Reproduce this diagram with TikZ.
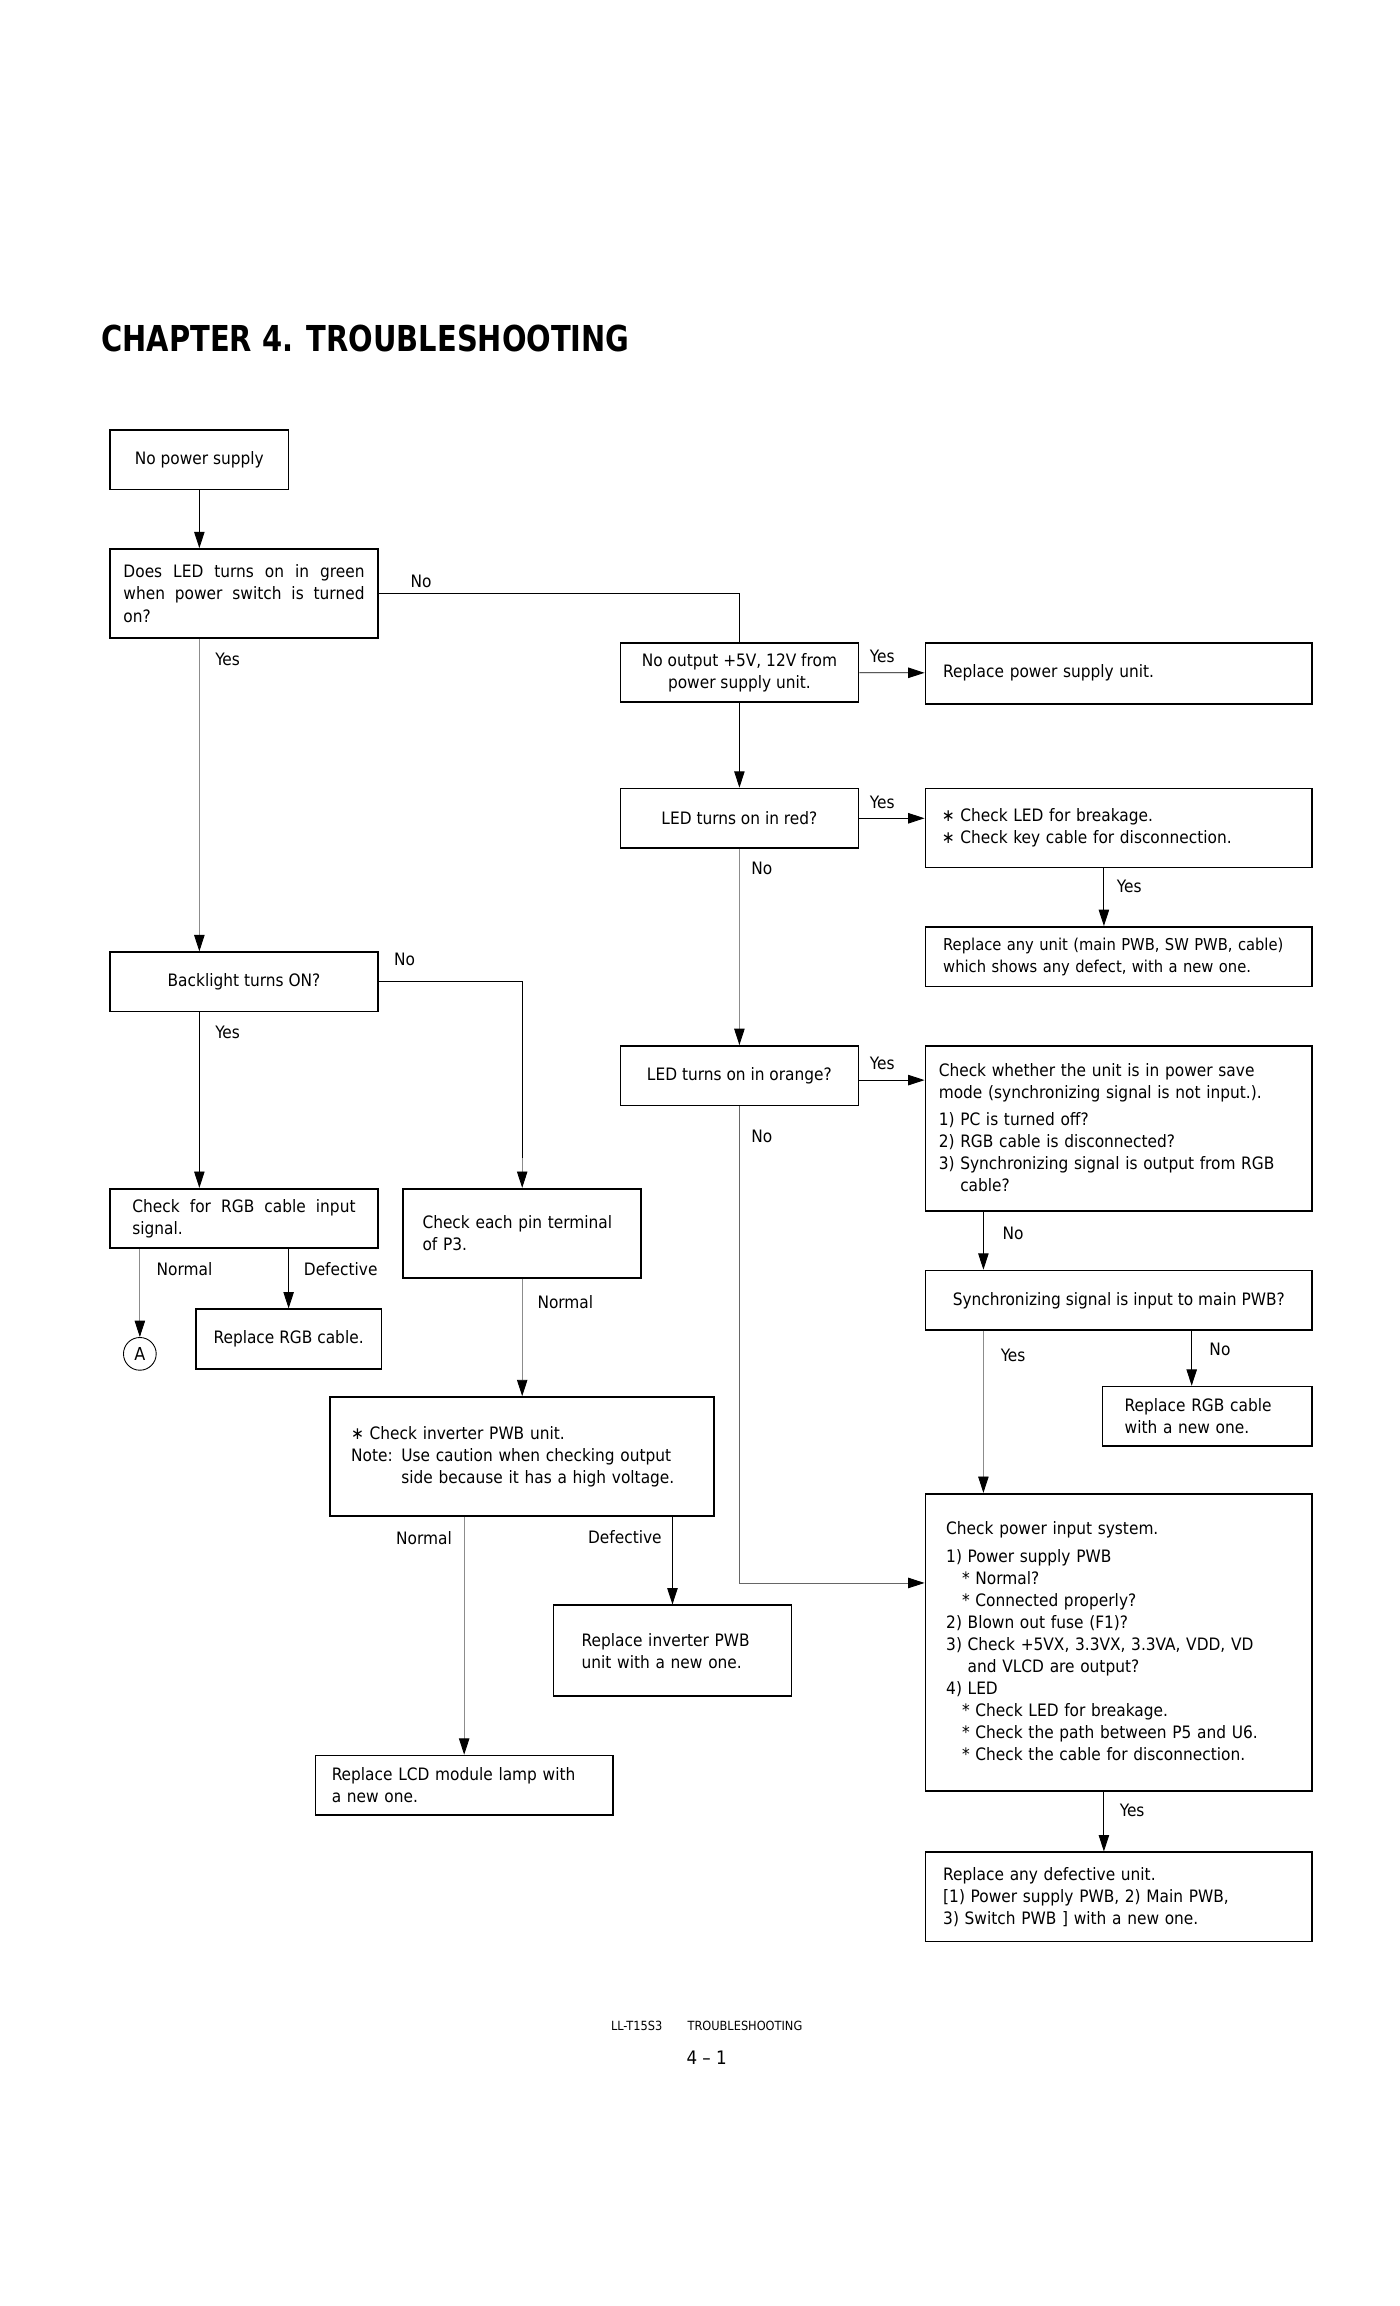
\documentclass[tikz,border=0pt]{standalone}
\usepackage{fontspec}
\setmainfont{DejaVu Sans Condensed}
\newfontfamily\titlefont{DejaVu Sans Condensed}[FakeStretch=0.9]
\usetikzlibrary{arrows.meta}
\newcommand\boxfont{\fontsize{11.5}{14.8}\selectfont\hyphenpenalty 10000\relax}

\begin{document}
\begin{tikzpicture}[x=1pt,y=-1pt,
    box/.style={draw,line width=1.1pt,rectangle,inner ysep=0pt,inner xsep=12pt,
        align=left,font=\boxfont},
    cbox/.style={box,align=center},
    lbl/.style={font=\fontsize{11.5}{14}\selectfont,inner sep=0pt},
    link/.style={line width=0.6pt,-{Triangle[length=11pt,width=7pt,color=black]}},
    glink/.style={link,draw=black!45},
    bare/.style={line width=0.6pt}]
    \useasboundingbox (0,0) rectangle (941,1550);

    \node[anchor=base west,inner sep=0pt,font=\titlefont\fontsize{24}{27}\bfseries] (title) at (68,236) {CHAPTER 4. TROUBLESHOOTING};

    % left column
    \node[cbox,minimum width=120pt,minimum height=40pt] (nops) at (134,309) {No power supply};
    \node[box,minimum width=180pt,minimum height=60pt,text width=162pt,inner xsep=9pt,align=justify] (green) at (164,399) {Does LED turns on in green when power switch is turned on?};
    \node[cbox,minimum width=180pt,minimum height=40pt] (back) at (164,660) {Backlight turns ON?};
    \node[box,minimum width=180pt,minimum height=40pt,text width=150pt,inner xsep=15pt,align=justify] (rgbin) at (164,819) {Check for RGB cable input signal.};
    \node[cbox,minimum width=120pt,minimum height=40pt] (rrgb) at (194,900) {Replace RGB cable.};
    \node[draw,circle,line width=0.6pt,minimum size=22pt,inner sep=0pt,font=\fontsize{12}{12}\selectfont] (A) at (94,910) {A};
    \node[box,minimum width=160pt,minimum height=60pt,text width=134pt,inner xsep=13pt] (pin) at (351,829) {Check each pin terminal\\of P3.};
    \node[box,minimum width=258pt,minimum height=80pt,text width=230pt,inner xsep=14pt] (inv) at (351,979) {∗ Check inverter PWB unit.\\Note: Use caution when checking output\\\phantom{Note: }side because it has a high voltage.};
    \node[box,minimum width=200pt,minimum height=40pt,text width=178pt,inner xsep=11pt] (lamp) at (312,1200) {Replace LCD module lamp with\\a new one.};
    \node[box,minimum width=160pt,minimum height=61pt,text width=122pt,inner xsep=19pt] (rinv) at (452,1109.5) {Replace inverter PWB\\unit with a new one.};

    % middle and right columns
    \node[cbox,minimum width=160pt,minimum height=40pt] (out) at (497,452) {No output +5V, 12V from\\power supply unit.};
    \node[box,minimum width=260pt,minimum height=41pt,text width=236pt] (rpsu) at (752,452.5) {Replace power supply unit.};
    \node[cbox,minimum width=160pt,minimum height=40pt] (red) at (497,550) {LED turns on in red?};
    \node[box,minimum width=260pt,minimum height=53pt,text width=238pt,inner xsep=11pt] (chk) at (752,556.5) {∗ Check LED for breakage.\\∗ Check key cable for disconnection.};
    \node[box,minimum width=260pt,minimum height=40pt,text width=236pt,inner xsep=12pt,font=\fontsize{11}{14.8}\selectfont] (rany) at (752,643) {\mbox{Replace any unit (main PWB, SW PWB, cable)}\\\mbox{which shows any defect, with a new one.}};
    \node[cbox,minimum width=160pt,minimum height=40pt] (orange) at (497,723) {LED turns on in orange?};
    \node[box,minimum width=260pt,minimum height=111pt,text width=242pt,inner xsep=9pt] (save) at (752,758.5) {Check whether the unit is in power save\\mode (synchronizing signal is not input.).\\[3pt]1) PC is turned off?\\2) RGB cable is disconnected?\\3) Synchronizing signal is output from RGB\\\phantom{3) }cable?};
    \node[cbox,minimum width=260pt,minimum height=40pt] (sync) at (752,874) {Synchronizing signal is input to main PWB?};
    \node[box,minimum width=141pt,minimum height=40pt,text width=111pt,inner xsep=15pt] (rrgb2) at (811.5,952) {Replace RGB cable\\with a new one.};
    \node[box,minimum width=260pt,minimum height=200pt,text width=232pt,inner xsep=14pt] (pwr) at (752,1104) {Check power input system.\\[4pt]1) Power supply PWB\\\phantom{1)}* Normal?\\\phantom{1)}* Connected properly?\\2) Blown out fuse (F1)?\\3) Check +5VX, 3.3VX, 3.3VA, VDD, VD\\\phantom{3) }and VLCD are output?\\4) LED\\\phantom{1)}* Check LED for breakage.\\\phantom{1)}* Check the path between P5 and U6.\\\phantom{1)}* Check the cable for disconnection.};
    \node[box,minimum width=260pt,minimum height=60pt,text width=236pt] (rdef) at (752,1275) {Replace any defective unit.\\{}[1) Power supply PWB, 2) Main PWB,\\3) Switch PWB ] with a new one.};

    % connectors
    \draw[link] (nops) -- (nops.south |- green.north);
    \draw[bare] (green.east) -| (out.north);
    \draw[link] (out) -- (rpsu);
    \draw[link] (out) -- (red);
    \draw[link] (red.east) -- (red.east -| chk.west);
    \draw[link] ([xshift=-10pt]chk.south) -- ([xshift=-10pt]rany.north);
    \draw[glink] (red) -- (orange);
    \draw[link] ([yshift=-3pt]orange.east) -- ([yshift=-3pt]orange.east -| save.west);
    \draw[link,draw=black!60] (orange) |- ([yshift=40pt]pwr.west);
    \draw[link] ([xshift=-91pt]save.south) -- ([xshift=-91pt]sync.north);
    \draw[glink] ([xshift=-91pt]sync.south) -- ([xshift=-91pt]pwr.north);
    \draw[link] ([xshift=49pt]sync.south) -- ([xshift=49pt]sync.south |- rrgb2.north);
    \draw[link] ([xshift=-10pt]pwr.south) -- ([xshift=-10pt]rdef.north);
    \draw[glink] (green.south -| nops.south) -- (back.north -| nops.south);
    \draw[bare] (back.east) -| ([yshift=20pt]pin.north);
    \draw[glink] ([yshift=20pt]pin.north) -- (pin.north);
    \draw[link] (back.south -| nops.south) -- (rgbin.north -| nops.south);
    \draw[glink] (rgbin.south -| A.north) -- (A.north);
    \draw[link] (rgbin.south -| rrgb.north) -- (rrgb.north);
    \draw[glink] (pin) -- (inv);
    \draw[glink] (inv.south -| lamp.north) -- (lamp.north);
    \draw[link] (inv.south -| rinv.north) -- (rinv.north);

    % branch labels
    \node[lbl] (l1) at (283,391) {No};
    \node[lbl] (l2) at (593,441) {Yes};
    \node[lbl] (l3) at (593,539) {Yes};
    \node[lbl] (l4) at (759,596) {Yes};
    \node[lbl] (l5) at (512,584) {No};
    \node[lbl] (l6) at (593,715) {Yes};
    \node[lbl] (l7) at (512,764) {No};
    \node[lbl] (l8) at (681,829) {No};
    \node[lbl] (l9) at (681,911) {Yes};
    \node[lbl] (l10) at (820,907) {No};
    \node[lbl] (l11) at (761,1217) {Yes};
    \node[lbl] (l12) at (153,443) {Yes};
    \node[lbl] (l13) at (272,645) {No};
    \node[lbl] (l14) at (153,694) {Yes};
    \node[lbl] (l15) at (124,853) {Normal};
    \node[lbl] (l16) at (229,853) {Defective};
    \node[lbl] (l17) at (380,875) {Normal};
    \node[lbl] (l18) at (285,1034) {Normal};
    \node[lbl] (l19) at (420,1033) {Defective};

    % footer
    \node[font=\fontsize{8.5}{9}\selectfont,inner sep=0pt] (foot) at (475,1362) {LL-T15S3\quad\quad TROUBLESHOOTING};
    \node[font=\fontsize{12.5}{13}\selectfont,inner sep=0pt] (page) at (475,1383) {4 – 1};
\end{tikzpicture}
\end{document}
